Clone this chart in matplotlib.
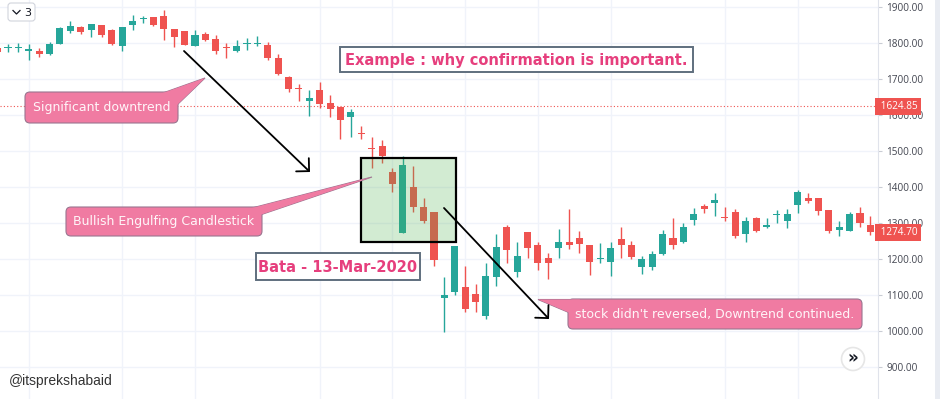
import matplotlib
matplotlib.use("Agg")
import matplotlib.pyplot as plt
from matplotlib.patches import Rectangle, FancyBboxPatch, Polygon, Circle
from matplotlib.transforms import blended_transform_factory

# Daily OHLC of Bata around the March 2020 sell-off
opens = [1787, 1786, 1788, 1780, 1779, 1770, 1798, 1834, 1845, 1837,
         1851, 1837, 1793, 1851, 1868, 1873, 1876, 1840, 1834, 1793,
         1826, 1812, 1788, 1779, 1797, 1799, 1795, 1759, 1706, 1674,
         1640, 1670, 1634, 1623, 1595, 1549, 1508, 1515, 1442, 1273,
         1401, 1345, 1331, 1092, 1109, 1123, 1104, 1042, 1151, 1290,
         1165, 1276, 1240, 1204, 1231, 1248, 1259, 1240, 1201, 1192,
         1256, 1240, 1179, 1179, 1215, 1259, 1248, 1309, 1348, 1356,
         1318, 1331, 1270, 1315, 1290, 1322, 1306, 1351, 1370, 1370,
         1337, 1281, 1279, 1329, 1295]
highs = [1792, 1798, 1801, 1798, 1787, 1804, 1845, 1862, 1848, 1854,
         1851, 1840, 1845, 1879, 1876, 1873, 1893, 1840, 1834, 1837,
         1831, 1823, 1801, 1809, 1815, 1820, 1804, 1770, 1709, 1687,
         1670, 1692, 1656, 1623, 1617, 1570, 1540, 1531, 1454, 1487,
         1459, 1370, 1331, 1151, 1237, 1181, 1131, 1190, 1270, 1295,
         1248, 1276, 1248, 1218, 1284, 1340, 1279, 1240, 1245, 1248,
         1290, 1251, 1209, 1223, 1281, 1315, 1301, 1342, 1354, 1384,
         1345, 1340, 1318, 1318, 1315, 1337, 1340, 1393, 1384, 1370,
         1337, 1306, 1331, 1345, 1320]
lows = [1770, 1776, 1776, 1754, 1762, 1768, 1798, 1829, 1826, 1817,
        1817, 1795, 1779, 1837, 1856, 1848, 1809, 1790, 1795, 1793,
        1806, 1770, 1759, 1776, 1781, 1793, 1754, 1712, 1665, 1640,
        1598, 1620, 1595, 1534, 1540, 1534, 1454, 1467, 1387, 1273,
        1331, 1301, 1181, 998, 1101, 1054, 1054, 1034, 1126, 1190,
        1151, 1204, 1170, 1145, 1204, 1229, 1218, 1156, 1190, 1154,
        1204, 1201, 1159, 1170, 1212, 1229, 1245, 1295, 1329, 1320,
        1306, 1259, 1248, 1276, 1287, 1301, 1287, 1329, 1356, 1323,
        1273, 1265, 1279, 1290, 1268]
closes = [1776, 1788, 1791, 1783, 1770, 1798, 1843, 1848, 1831, 1854,
          1823, 1798, 1845, 1862, 1870, 1851, 1840, 1818, 1795, 1823,
          1809, 1779, 1786, 1793, 1799, 1802, 1759, 1715, 1673, 1672,
          1648, 1631, 1617, 1587, 1609, 1547, 1505, 1487, 1409, 1462,
          1345, 1306, 1198, 1101, 1237, 1062, 1081, 1154, 1234, 1226,
          1209, 1231, 1190, 1190, 1248, 1240, 1242, 1192, 1204, 1231,
          1240, 1206, 1201, 1215, 1270, 1240, 1290, 1326, 1340, 1365,
          1315, 1265, 1306, 1279, 1295, 1324, 1326, 1387, 1362, 1334,
          1279, 1290, 1326, 1301, 1274.70]

price_ticks = [900, 1000, 1100, 1200, 1300, 1400, 1500, 1600, 1700, 1800, 1900]
time_grid = [3, 12, 19, 31, 38, 45, 52, 59, 70, 77]
ref_price = 1624.85
last_price = closes[-1]

UP, DOWN = "#26a69a", "#ef5350"
PINK_TXT = "#e63f7d"
CALLOUT = "#f07ba2"
W, H = 940, 399

fig = plt.figure(figsize=(W / 100, H / 100), dpi=100)
ax = fig.add_axes([0, 0, 878 / W, 1])
ax.set_xlim(0.23, 84.73)
ax.set_ylim(811.9, 1920.3)

# candles
for i, (o, h, l, c) in enumerate(zip(opens, highs, lows, closes)):
    col = UP if c >= o else DOWN
    ax.vlines(i, l, h, color=col, lw=1.0, zorder=2)
    ax.bar(i, max(abs(c - o), 2.5), bottom=min(o, c), width=0.68,
           color=col, linewidth=0, zorder=2)

# highlighted engulfing zone
ax.add_patch(Rectangle((34.97, 1248), 44.1 - 34.97, 1481 - 1248,
                       facecolor=(0.30, 0.69, 0.31, 0.25), edgecolor="black",
                       lw=1.6, zorder=3))

ax.axhline(ref_price, color=DOWN, lw=0.8, ls=(0, (1, 2)), zorder=1)

# axes styling, price scale on the right
for s in ["top", "left", "bottom"]:
    ax.spines[s].set_visible(False)
ax.spines["right"].set_color("#e0e3eb")
ax.yaxis.tick_right()
ax.set_yticks(price_ticks)
ax.set_yticklabels([f"{v:.2f}" for v in price_ticks])
ax.tick_params(axis="y", length=3, color="#c9ccd4", labelsize=7.2,
               labelcolor="#434651", pad=3)
for lab in ax.get_yticklabels():
    lab.set_fontfamily("Open Sans")
ax.set_xticks(time_grid)
ax.tick_params(axis="x", length=0, labelbottom=False)
ax.grid(True, color="#f0f3fa", lw=1.0)
ax.set_axisbelow(True)

ytr = blended_transform_factory(ax.transAxes, ax.transData)
for p in [ref_price, last_price]:
    ax.text(1.0, p, f" {p:.2f}", transform=ytr, ha="left", va="center",
            color="white", fontsize=7.2, family="Open Sans", clip_on=False,
            bbox=dict(boxstyle="square,pad=0.3", fc=DOWN, ec="none"), zorder=6)

# overlay in figure pixels for the drawings
ov = fig.add_axes([0, 0, 1, 1], zorder=5)
ov.set_xlim(0, W)
ov.set_ylim(H, 0)
ov.axis("off")

ov.add_patch(Rectangle((935, 0), 5, H, fc="#e9ecf2", ec="none"))

arrow = dict(arrowstyle="->,head_length=0.66,head_width=0.66", color="black",
             lw=1.3, shrinkA=0, shrinkB=0, mutation_scale=10)
ov.annotate("", xy=(310, 172), xytext=(184, 51), arrowprops=arrow)
ov.annotate("", xy=(549, 319), xytext=(444, 208), arrowprops=arrow)


def callout(x0, y0, x1, y1, tail, text):
    ov.add_patch(Polygon(tail, closed=True, fc=CALLOUT, ec="#9a7590", lw=0.8))
    ov.add_patch(FancyBboxPatch((x0, y0), x1 - x0, y1 - y0,
                                boxstyle="round,pad=0,rounding_size=5",
                                fc=CALLOUT, ec="#9a7590", lw=0.8))
    ov.add_patch(Polygon(tail, closed=True, fc=CALLOUT, ec="none"))
    ov.text((x0 + x1) / 2, (y0 + y1) / 2 + 0.5, text, ha="center", va="center",
            color="#fff6f9", fontsize=9)


callout(25, 92, 178, 123, [(160, 94), (205, 78), (177, 105)],
        "Significant downtrend")
callout(66, 207, 262, 236, [(248, 209), (372, 177), (260, 215)],
        "Bullish Engulfing Candlestick")
callout(568, 299, 862, 329, [(538, 299.5), (580, 299.5), (570, 313)],
        "stock didn't reversed, Downtrend continued.")


def label_box(x0, y0, x1, y1, text):
    ov.add_patch(Rectangle((x0, y0), x1 - x0, y1 - y0, fc="white",
                           ec="#5f6f7e", lw=1.4))
    ov.text((x0 + x1) / 2, (y0 + y1) / 2 + 0.5, text, ha="center", va="center",
            color=PINK_TXT, fontsize=10.5, fontweight="bold")


label_box(340, 47, 693, 72, "Example : why confirmation is important.")
label_box(256, 253, 420, 280, "Bata - 13-Mar-2020")

# small widgets of the chart window
ov.add_patch(FancyBboxPatch((8, 3), 27, 18, boxstyle="round,pad=0,rounding_size=3",
                            fc="white", ec="#d1d4dc", lw=0.8))
ov.plot([13, 16.5, 20], [10.5, 14, 10.5], color="#131722", lw=0.9)
ov.text(27.5, 12.5, "3", ha="center", va="center", fontsize=8, color="#131722")
ov.add_patch(Circle((853, 359), 11.5, fc="white", ec="#e6e6e6", lw=1.2))
ov.text(853, 358, "»", ha="center", va="center", fontsize=12,
        fontweight="bold", color="#131722")

ov.text(9, 381, "@itsprekshabaid", ha="left", va="center", fontsize=10,
        family="Liberation Sans", color="#333333")

fig.savefig("out.png", dpi=100)
